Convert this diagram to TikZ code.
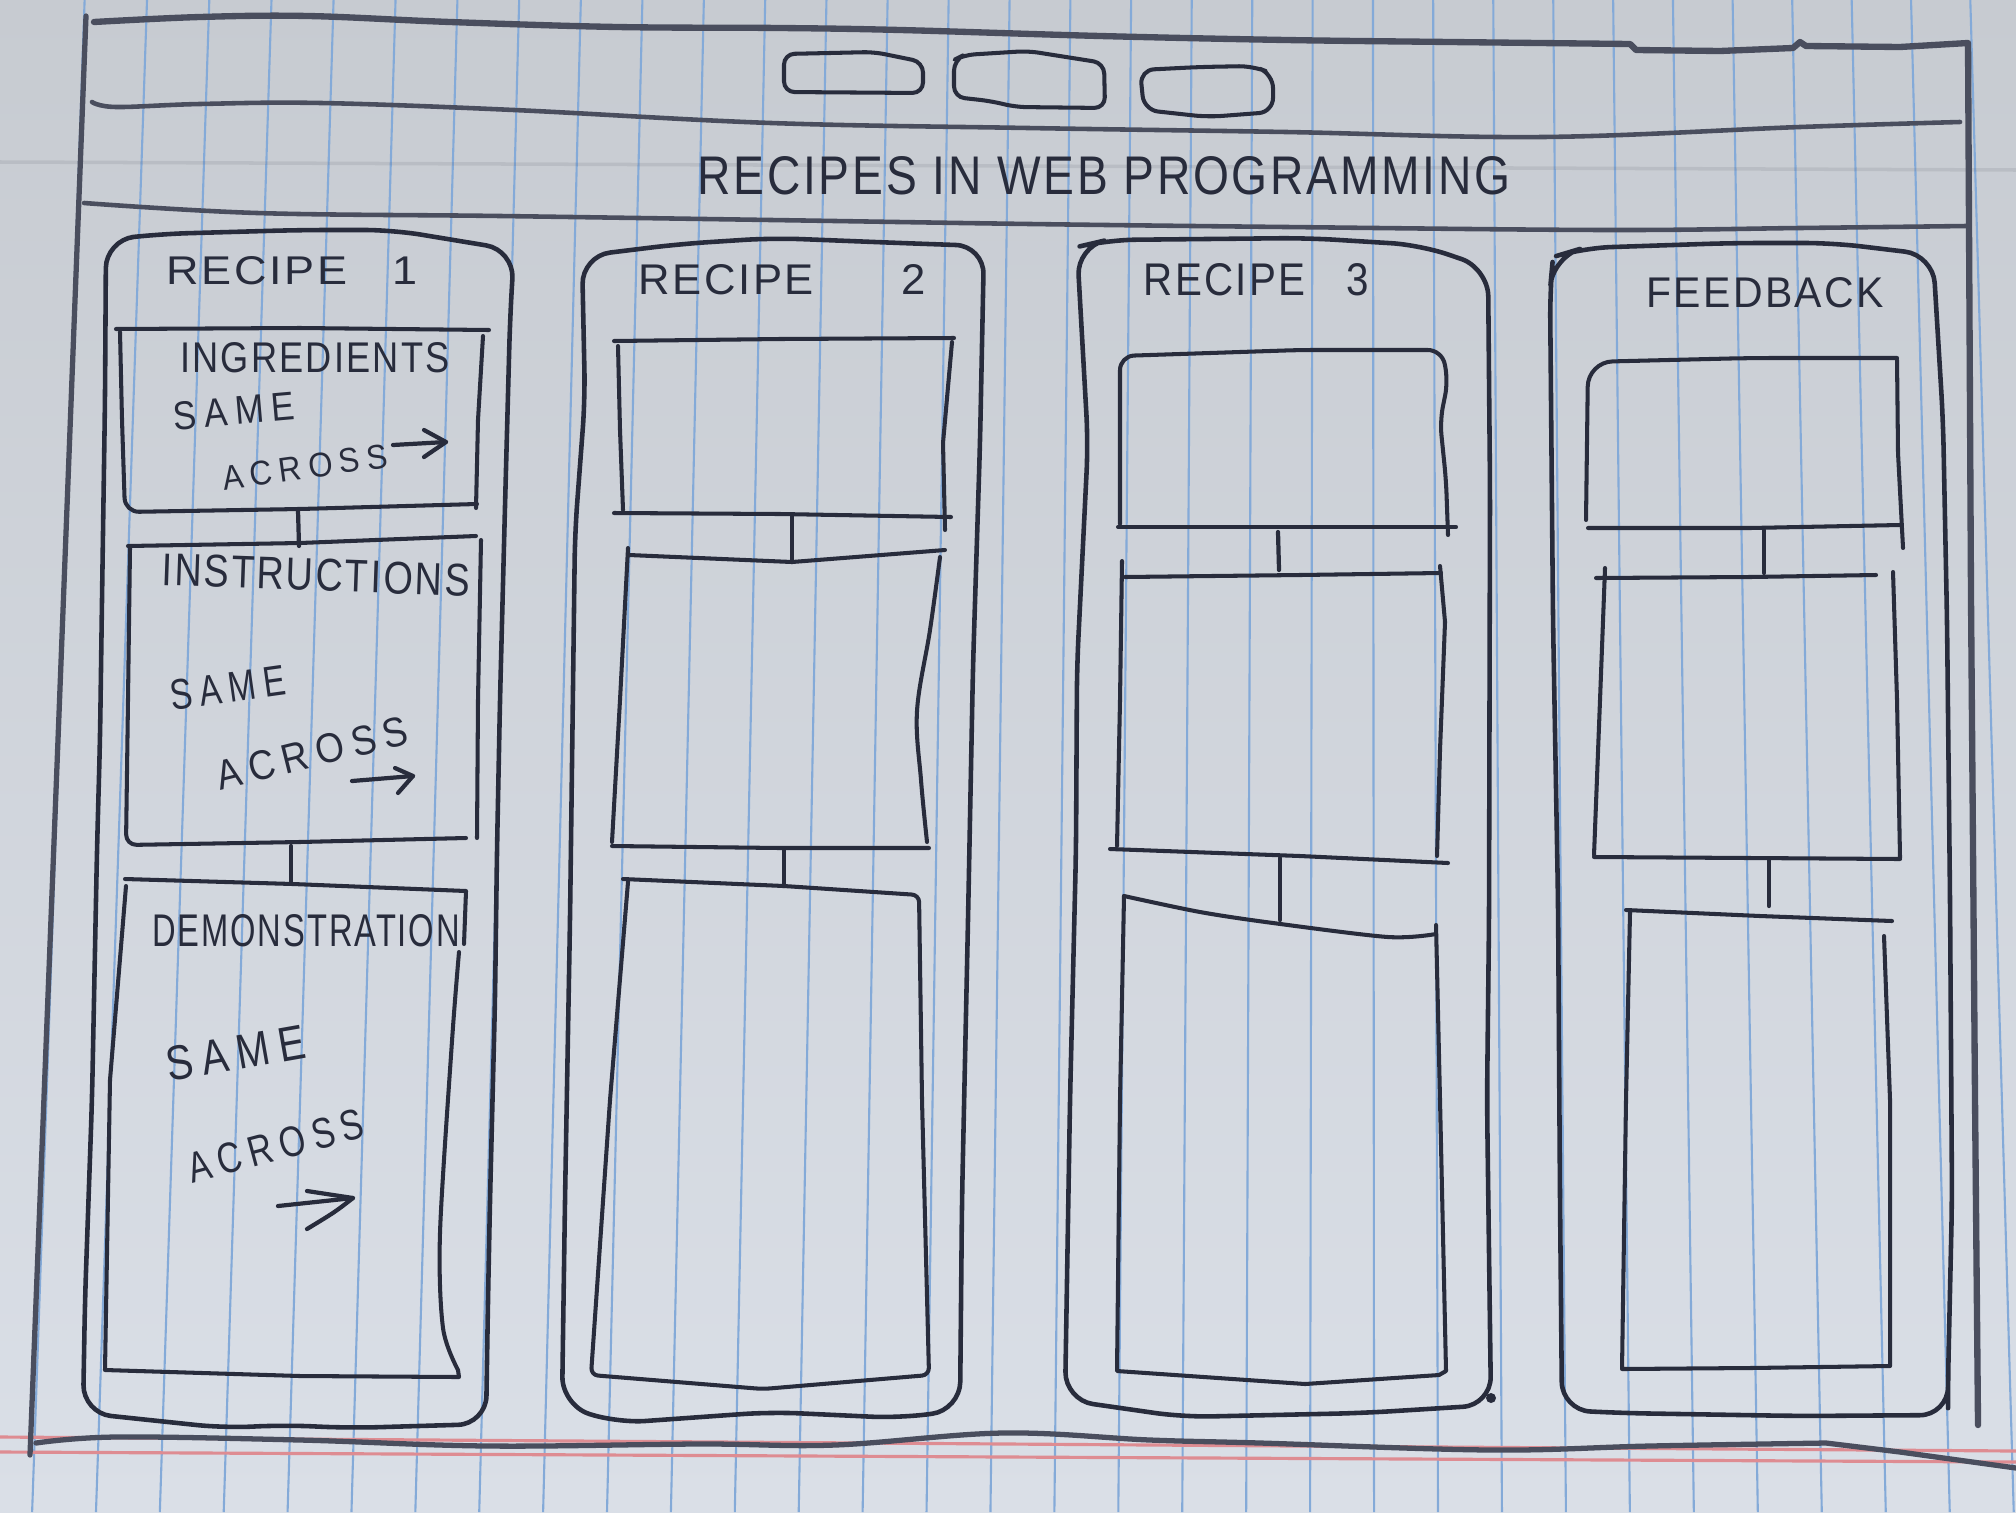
\documentclass[tikz,border=0pt]{standalone}
\usepackage{fontspec}
\usepackage{graphicx}
\newfontfamily\handfont[LetterSpace=6]{Liberation Sans}
\newfontfamily\loosefont[LetterSpace=22]{Liberation Sans}
\newlength\upx
\setlength\upx{0.01cm}
% hand lettering: text squeezed into a box of given width and cap height
\newcommand\hand[3]{\resizebox{#1\upx}{#2\upx}{\handfont #3}}
\newcommand\loose[3]{\resizebox{#1\upx}{#2\upx}{\loosefont #3}}
\definecolor{paperlow}{RGB}{218,223,231}
\definecolor{papertop}{RGB}{199,203,209}
\definecolor{rulecol}{RGB}{132,170,216}
\definecolor{margincol}{RGB}{222,140,146}
\definecolor{ink}{RGB}{40,44,60}
\definecolor{pencil}{RGB}{74,78,94}
\tikzset{
  rulestroke/.style={draw=rulecol, line width=0.6pt},
  marginstroke/.style={draw=margincol, line width=0.9pt},
  framestroke/.style={draw=pencil, line width=1.5pt, line cap=round, line join=round},
  colstroke/.style={draw=ink, line width=1.3pt, line cap=round, line join=round},
  boxstroke/.style={draw=ink, line width=1.15pt, line cap=round, line join=round},
  linkstroke/.style={draw=ink, line width=1.2pt, line cap=round},
  penarrow/.style={draw=ink, line width=1.2pt, line cap=round, line join=round},
  lbl/.style={text=ink, inner sep=0pt, outer sep=0pt},
}
\begin{document}
\begin{tikzpicture}[x=0.01cm, y=-0.01cm]
\useasboundingbox (0,0) rectangle (2016,1512);

% ---------- ruled paper ----------
\shade[top color=papertop, bottom color=paperlow] (0,0) rectangle (2016,1512);
\foreach \k in {-1,...,30}{
  \pgfmathsetmacro\xt{145+62.4*\k-0.05*\k*\k}
  \pgfmathsetmacro\xb{98+63.8*\k}
  \draw[rulestroke] ({\xt-(\xb-\xt)*0.043},0) -- ({\xt+(\xb-\xt)*1.043},1512);
}
\draw[draw=pencil, opacity=0.12, line width=1pt] (0,162) -- (2016,170);
\draw[marginstroke] (0,1437) -- (2016,1451);
\draw[marginstroke] (0,1452) -- (2016,1462);

% ---------- page frame ----------
\draw[framestroke] (86,16) -- (58,740) -- (30,1455);
\draw[framestroke, line width=1.8pt] plot[smooth, tension=0.6] coordinates {(94,22) (200,17) (308,16) (450,22) (617,27) (780,28) (900,30) (1100,36) (1286,40) (1450,42) (1630,44)}
  -- (1636,50) -- (1720,51) -- (1793,48) -- (1800,42) -- (1806,46) -- (1900,47) -- (1968,43) -- (1971,600) -- (1975,1100) -- (1978,1425);
\draw[framestroke, line width=1.3pt] plot[smooth, tension=0.6] coordinates {(92,102) (116,107) (200,104) (321,103) (514,110) (771,123) (1028,128) (1286,132) (1543,137) (1800,127) (1960,122)};
\draw[framestroke, line width=1.3pt] plot[smooth, tension=0.6] coordinates {(84,203) (257,213) (500,216) (771,220) (1030,224) (1286,227) (1607,230) (1800,228) (1967,226)};
\draw[framestroke] plot[smooth, tension=0.6] coordinates {(36,1443) (116,1437) (300,1440) (488,1446) (700,1444) (835,1445) (1003,1433) (1150,1440) (1260,1443) (1491,1450) (1650,1446) (1826,1443)} -- (1900,1452) -- (2016,1468);

% ---------- nav buttons ----------
\draw[boxstroke, rounded corners=3pt] (830,53) -- (874,52) -- (923,62) -- (923,93) -- (784,92) -- (784,54) -- cycle;
\draw[boxstroke, rounded corners=3pt] (1028,51) -- (1104,63) -- (1105,108) -- (1016,107) -- (990,101) -- (954,97) -- (954,60) -- (964,55) -- cycle;
\draw[boxstroke, rounded corners=4pt] (1200,67) -- (1253,66) -- (1273,74) -- (1273,112) -- (1208,117) -- (1144,110) -- (1140,70) -- cycle;

% ---------- title ----------
\node[lbl] (title) at (1104,176) {\hand{813}{38}{RECIPES IN WEB PROGRAMMING}};

% ---------- column 1 : recipe 1 ----------
\draw[colstroke, rounded corners=8pt] (300,230) -- (160,234) -- (106,240) -- (105,400) -- (102,600) -- (100,740) -- (97,850) -- (92,1100) -- (85,1300) -- (83,1413) -- (225,1428) -- (283,1425) -- (350,1428) -- (486,1424) -- (488,1300) -- (490,1200) -- (495,1000) -- (497,850) -- (500,700) -- (505,506) -- (510,320) -- (514,250) -- (393,230) -- cycle;
\node[lbl] (r1title) at (292,271) {\hand{251}{28}{RECIPE\quad 1}};

% ingredients
\draw[boxstroke] (116,329) -- (300,328) -- (489,330);
\draw[boxstroke] (483,336) -- (478,420) -- (476,508);
\draw[boxstroke, rounded corners=4pt] (120,332) -- (122,420) -- (125,512) -- (300,509) -- (477,504);
\node[lbl] (ingr) at (315,358) {\hand{269}{30}{INGREDIENTS}};
\node[lbl, rotate=5] (ingrA) at (234,411) {\loose{122}{28}{SAME}};
\node[lbl, rotate=8] (ingrB) at (305,467) {\loose{166}{24}{ACROSS}};
\coordinate (ia1) at (393,445); \coordinate (ia2) at (446,442);
\draw[penarrow] (ia1) -- (ia2);
\draw[penarrow] (424,430) -- (ia2) -- (424,457);
\coordinate (l1a) at (298,510); \coordinate (l1b) at (299,546);
\draw[linkstroke] (l1a) -- (l1b);

% instructions
\draw[boxstroke] (128,546) -- (300,543) -- (476,536);
\draw[boxstroke] (481,540) -- (478,700) -- (477,838);
\draw[boxstroke, rounded corners=3pt] (130,548) -- (128,700) -- (126,845) -- (300,842) -- (466,838);
\node[lbl, rotate=-2] (instr) at (316,575) {\hand{308}{32}{INSTRUCTIONS}};
\node[lbl, rotate=8] (instrA) at (228,688) {\loose{116}{30}{SAME}};
\node[lbl, rotate=14] (instrB) at (312,753) {\loose{196}{29}{ACROSS}};
\coordinate (sa1) at (352,781); \coordinate (sa2) at (413,776);
\draw[penarrow] (sa1) -- (sa2);
\draw[penarrow] (395,768) -- (sa2) -- (398,793);
\coordinate (l2a) at (291,846); \coordinate (l2b) at (291,883);
\draw[linkstroke] (l2a) -- (l2b);

% demonstration
\draw[boxstroke] (125,879) -- (293,884) -- (466,891) -- (464,944);
\draw[boxstroke] plot[smooth, tension=0.5] coordinates {(459,952) (452,1041) (440,1233) (443,1328) (458,1370)} -- (459,1377) -- (300,1376) -- (105,1370) -- (110,1080) -- (126,886);
\node[lbl] (demo) at (306,931) {\hand{308}{32}{DEMONSTRATION}};
\node[lbl, rotate=10] (demoA) at (236,1053) {\loose{140}{34}{SAME}};
\node[lbl, rotate=15] (demoB) at (276,1146) {\loose{180}{30}{ACROSS}};
\coordinate (da1) at (278,1206); \coordinate (da2) at (353,1198);
\draw[penarrow] (da1) -- (da2);
\draw[penarrow] (307,1191) -- (da2) .. controls (335,1212) .. (307,1229);

% ---------- column 2 : recipe 2 ----------
\draw[colstroke, rounded corners=8pt] (773,238) -- (680,244) -- (582,256) -- (585,399) -- (575,532) -- (570,920) -- (565,1200) -- (562,1405) -- (617,1423) -- (771,1412) -- (900,1418) -- (960,1410) -- (962,1200) -- (968,920) -- (973,666) -- (980,443) -- (984,246) -- (900,243) -- cycle;
\node[lbl] (r2title) at (782,280) {\hand{287}{30}{RECIPE\qquad 2}};
\draw[boxstroke] (614,341) -- (780,339) -- (954,338);
\draw[boxstroke] (618,346) -- (620,430) -- (623,510);
\draw[boxstroke] (952,342) -- (943,443) -- (945,530);
\draw[boxstroke] (614,513) -- (780,514) -- (951,517);
\coordinate (l3a) at (792,515); \coordinate (l3b) at (792,562);
\draw[linkstroke] (l3a) -- (l3b);
\draw[boxstroke] (629,555) -- (792,562) -- (945,550);
\draw[boxstroke] (628,548) -- (620,700) -- (612,842);
\draw[boxstroke] plot[smooth, tension=0.6] coordinates {(940,557) (930,630) (917,711) (921,780) (927,842)};
\draw[boxstroke] (612,846) -- (780,848) -- (929,848);
\coordinate (l4a) at (784,850); \coordinate (l4b) at (784,886);
\draw[linkstroke] (l4a) -- (l4b);
\draw[boxstroke, rounded corners=2pt] (623,879) -- (784,886) -- (919,895) -- (922,1100) -- (929,1375) -- (763,1389) -- (591,1375) -- (610,1100) -- (628,882);

% ---------- column 3 : recipe 3 ----------
\draw[colstroke, rounded corners=8pt] (1307,238) -- (1107,240) -- (1077,247) -- (1088,443) -- (1077,666) -- (1076,850) -- (1070,1100) -- (1065,1400) -- (1183,1417) -- (1363,1413) -- (1491,1405) -- (1487,1100) -- (1489,920) -- (1490,488) -- (1488,268) -- (1420,245) -- cycle;
\fill[ink] (1491,1398) circle (5);
\node[lbl] (r3title) at (1256,280) {\hand{225}{32}{RECIPE\quad 3}};
\draw[boxstroke, rounded corners=4pt] (1120,524) -- (1120,356) -- (1300,350) -- (1442,350) -- (1448,381) -- (1440,421) -- (1446,480) -- (1448,535);
\draw[boxstroke] (1118,527) -- (1300,527) -- (1456,527);
\coordinate (l5a) at (1278,532); \coordinate (l5b) at (1279,570);
\draw[linkstroke] (l5a) -- (l5b);
\draw[boxstroke] (1125,577) -- (1300,575) -- (1441,573);
\draw[boxstroke] (1122,561) -- (1120,700) -- (1117,846);
\draw[boxstroke] (1440,566) -- (1445,622) -- (1440,750) -- (1437,856);
\draw[boxstroke] (1110,849) -- (1300,856) -- (1448,863);
\coordinate (l6a) at (1280,858); \coordinate (l6b) at (1280,920);
\draw[linkstroke] (l6a) -- (l6b);
\draw[boxstroke] plot[smooth, tension=0.5] coordinates {(1124,896) (1200,912) (1273,923) (1388,937) (1436,934)};
\draw[boxstroke] (1124,896) -- (1120,1100) -- (1117,1371) -- (1305,1384) -- (1439,1375) -- (1446,1371) -- (1440,1100) -- (1436,925);

% ---------- column 4 : feedback ----------
\draw[colstroke, rounded corners=8pt] (1733,243) -- (1583,248) -- (1553,257) -- (1550,290) -- (1553,620) -- (1558,900) -- (1560,1200) -- (1562,1410) -- (1620,1413) -- (1800,1416) -- (1948,1415) -- (1948,1380) -- (1952,1200) -- (1950,900) -- (1947,620) -- (1943,420) -- (1933,255) -- (1833,243) -- cycle;
\node[lbl] (fbtitle) at (1765,293) {\hand{238}{30}{FEEDBACK}};
\draw[boxstroke, rounded corners=7pt] (1586,520) -- (1588,362) -- (1750,358) -- (1897,358);
\draw[boxstroke] (1897,360) -- (1898,453) -- (1903,548);
\draw[boxstroke] (1588,528) -- (1750,528) -- (1900,525);
\coordinate (l7a) at (1764,530); \coordinate (l7b) at (1764,573);
\draw[linkstroke] (l7a) -- (l7b);
\draw[boxstroke] (1596,578) -- (1750,577) -- (1876,575);
\draw[boxstroke] (1605,568) -- (1600,700) -- (1594,855);
\draw[boxstroke] (1893,572) -- (1897,700) -- (1900,858);
\draw[boxstroke] (1594,857) -- (1750,858) -- (1900,859);
\coordinate (l8a) at (1769,859); \coordinate (l8b) at (1769,906);
\draw[linkstroke] (l8a) -- (l8b);
\draw[boxstroke] (1626,910) -- (1760,916) -- (1892,921);
\draw[boxstroke] (1630,912) -- (1626,1100) -- (1622,1369) -- (1750,1368) -- (1890,1366) -- (1890,1100) -- (1884,936);
\end{tikzpicture}
\end{document}
